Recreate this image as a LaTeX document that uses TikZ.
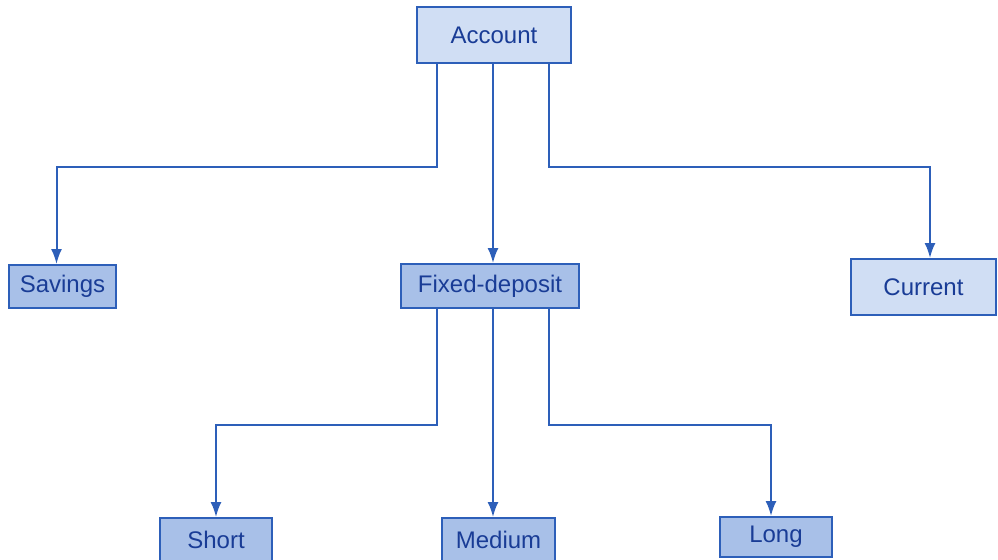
\documentclass[tikz,border=0pt]{standalone}
\usepackage{fontspec}
\setsansfont{Liberation Sans}
\usetikzlibrary{arrows.meta}

\definecolor{edgeblue}{RGB}{45,95,185}
\definecolor{textblue}{RGB}{25,60,150}
\definecolor{boxdark}{RGB}{168,192,232}
\definecolor{boxlight}{RGB}{208,222,244}

\begin{document}
\begin{tikzpicture}[x=0.5pt,y=-0.5pt,
        font=\sffamily\fontsize{12}{14}\selectfont,
        box/.style={draw=edgeblue,line width=1pt,fill=boxdark,
            text=textblue,inner sep=0pt},
        lightbox/.style={box,fill=boxlight},
        link/.style={draw=edgeblue,line width=1pt,
            -{Latex[length=7.5pt,width=5.5pt]}}]
        \useasboundingbox (0,0) rectangle (998,559);

        \node[lightbox,minimum width=77pt,minimum height=28pt]
            (acct) at (494,35) {Account};
        \node[box,minimum width=53.5pt,minimum height=21.5pt]
            (sav) at (62.5,286.5) {Savings};
        \node[box,minimum width=89pt,minimum height=22pt]
            (fix) at (490,286) {Fixed-deposit};
        \node[lightbox,minimum width=72.5pt,minimum height=28pt]
            (cur) at (923.5,287) {Current};
        \node[box,minimum width=56pt,minimum height=22pt]
            (sho) at (216,540) {Short};
        \node[box,minimum width=56.5pt,minimum height=22pt]
            (med) at (498.5,540) {Medium};
        \node[box,minimum width=56pt,minimum height=20pt]
            (lon) at (776,537) {Long};

        \draw[link] ([xshift=-28.5pt]acct.south) -- ++(0,-51.5pt)
            -| ([xshift=-3pt]sav.north);
        \draw[link] ([xshift=-0.5pt]acct.south) -- ([xshift=1.5pt]fix.north);
        \draw[link] ([xshift=27.5pt]acct.south) -- ++(0,-51.5pt)
            -| ([xshift=3.25pt]cur.north);

        \draw[link] ([xshift=-26.5pt]fix.south) -- ++(0,-58pt)
            -| (sho.north);
        \draw[link] ([xshift=1.5pt]fix.south) -- ([xshift=-2.75pt]med.north);
        \draw[link] ([xshift=29.5pt]fix.south) -- ++(0,-58pt)
            -| ([xshift=-2.5pt]lon.north);
    \end{tikzpicture}
\end{document}
